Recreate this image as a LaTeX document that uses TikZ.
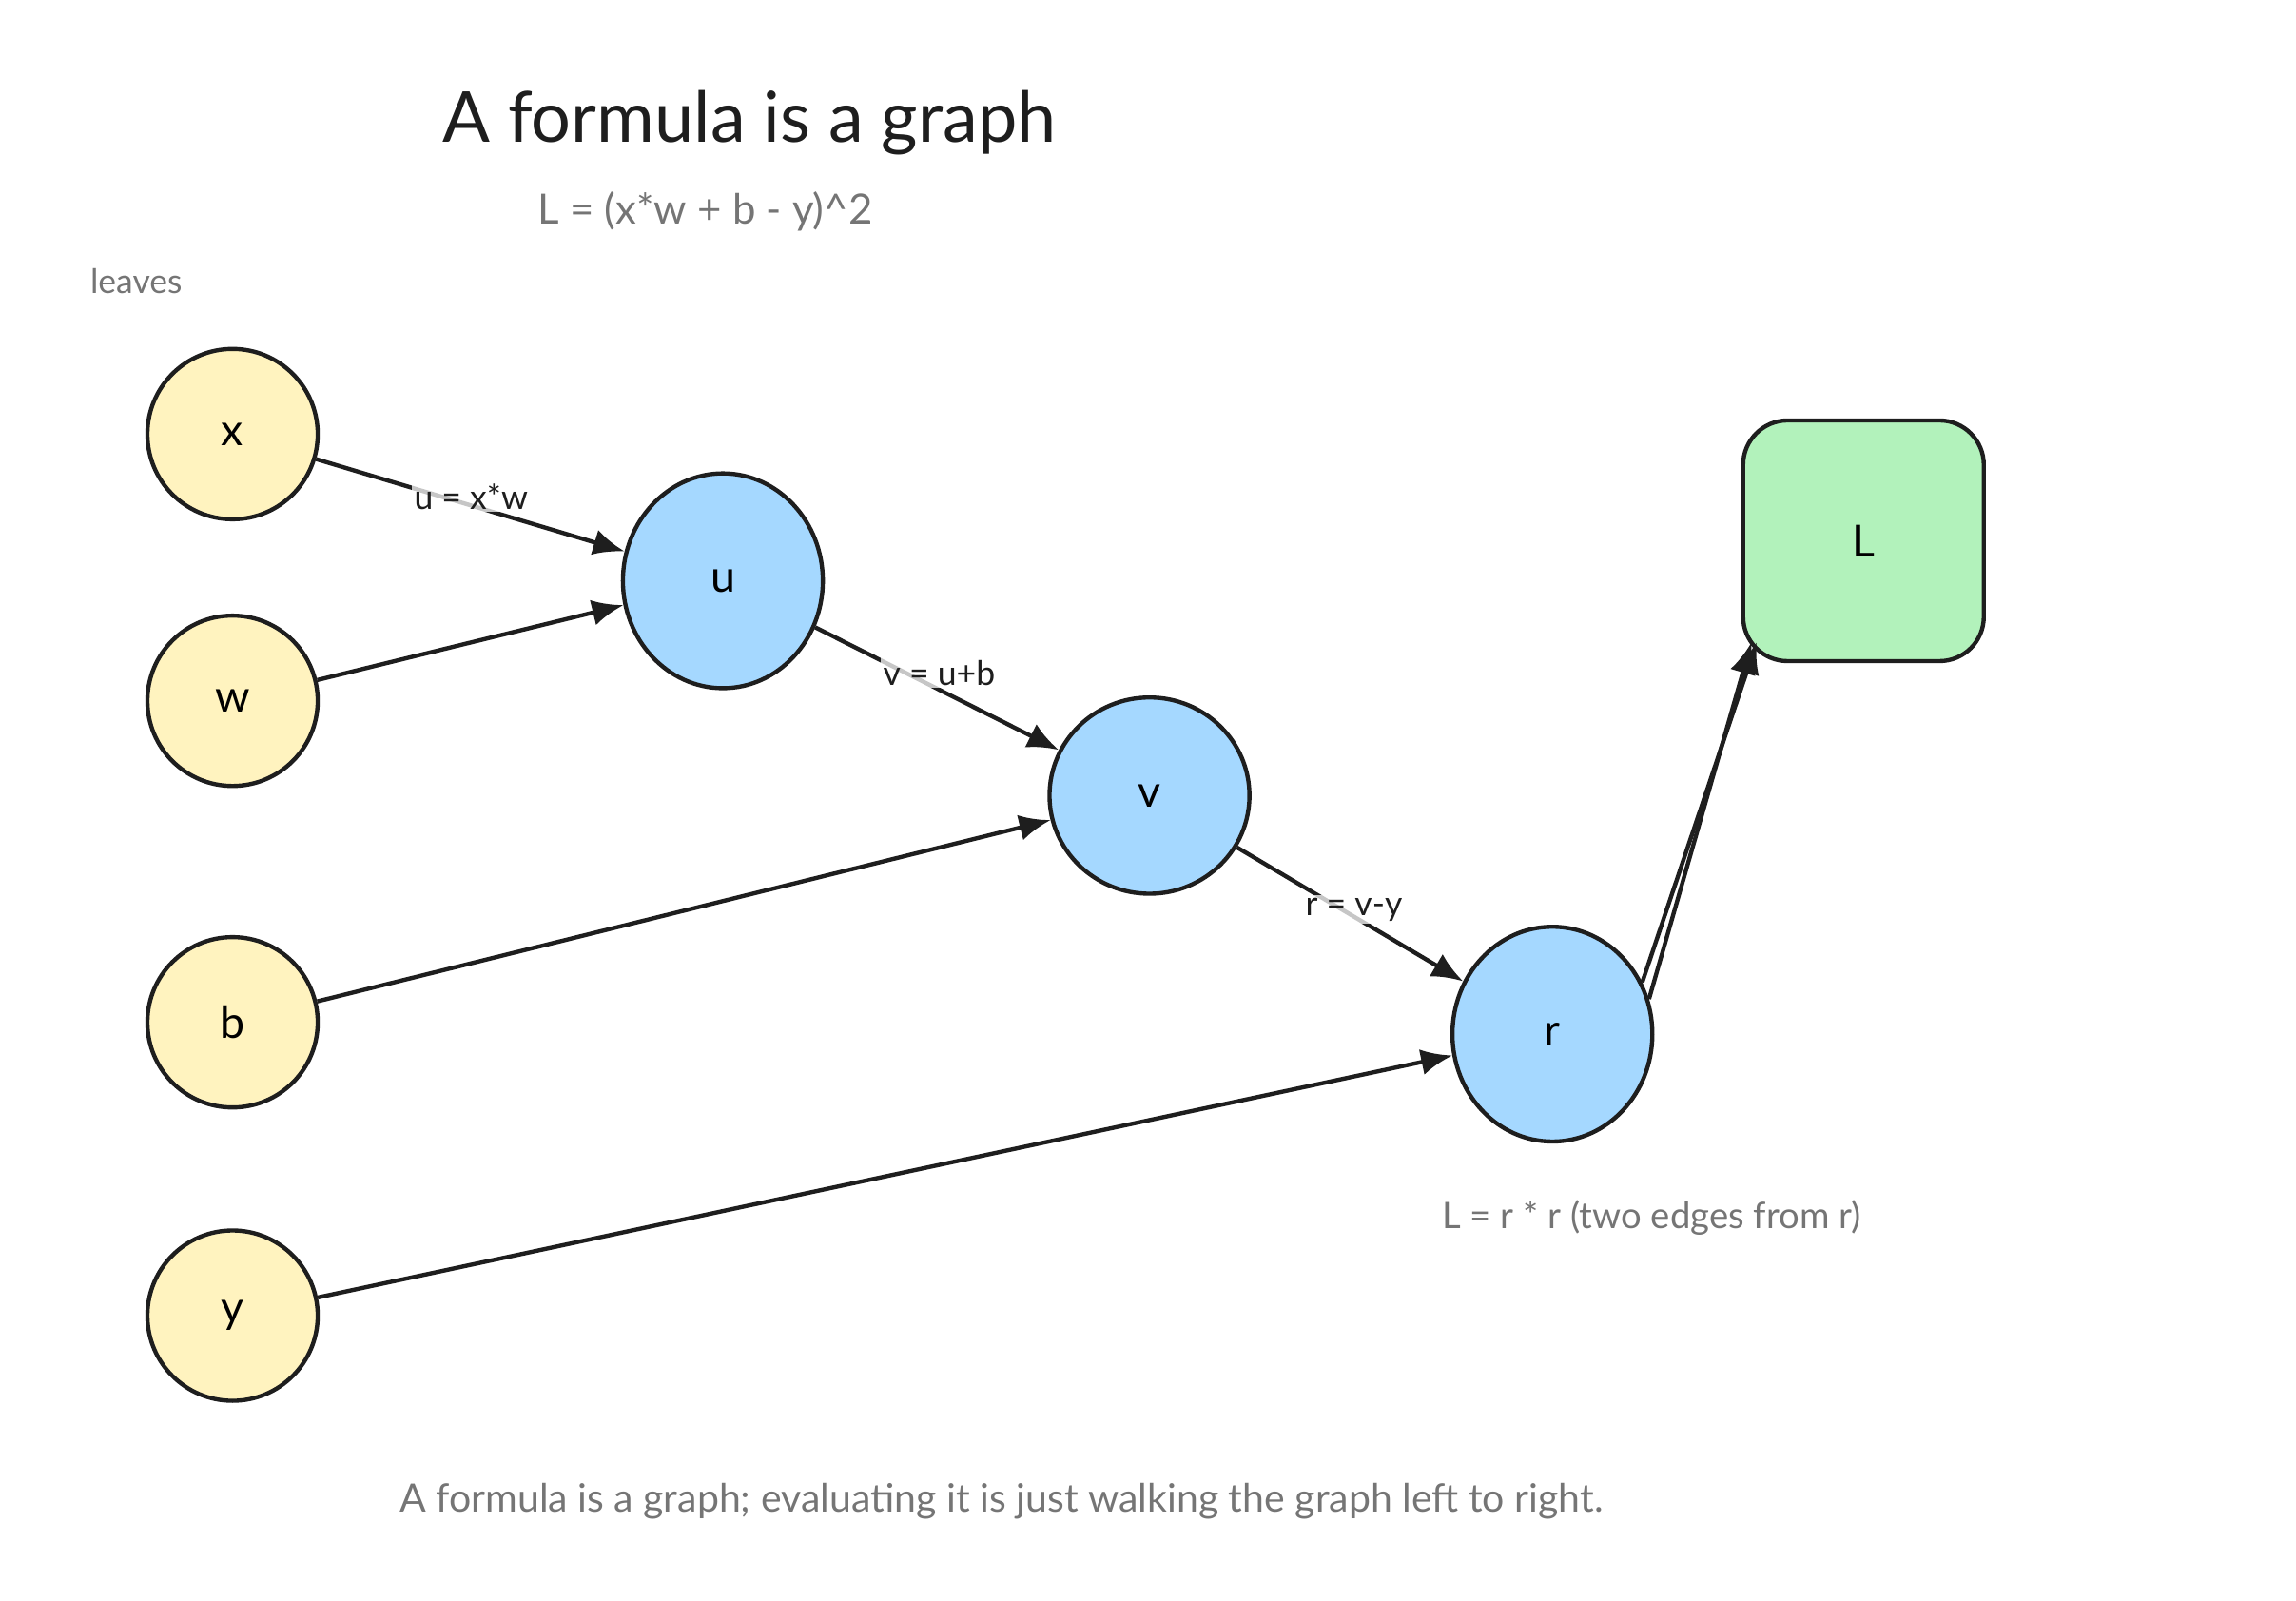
\documentclass[tikz,border=0pt]{standalone}
\usepackage{fontspec}
\setmainfont{Lato}
\usetikzlibrary{arrows.meta,shapes.geometric}
\definecolor{leaf}{HTML}{FFF3BF}
\definecolor{op}{HTML}{A5D8FF}
\definecolor{outc}{HTML}{B2F2BB}
\definecolor{ink}{HTML}{1E1E1E}
\definecolor{muted}{HTML}{757575}
\begin{document}
\begin{tikzpicture}[x=0.02cm,y=-0.02cm,
  leafn/.style={circle,draw=ink,line width=1.6pt,fill=leaf,minimum size=2.3cm,font=\fontsize{17}{20}\selectfont},
  opn/.style={ellipse,draw=ink,line width=1.6pt,fill=op,minimum width=2.7cm,minimum height=2.9cm,font=\fontsize{17}{20}\selectfont},
  edge/.style={draw=ink,line width=1.6pt,-{Latex[length=12pt,width=10pt]}},
  lbl/.style={font=\fontsize{13}{15}\selectfont,text=ink,fill=white,fill opacity=0.75,text opacity=1,inner sep=1pt},
  note/.style={font=\fontsize{14}{17}\selectfont,text=muted}]
\useasboundingbox (0,0) rectangle (1550,1080);
\node[leafn] (x) at (157,293) {x};
\node[leafn] (w) at (157,473) {w};
\node[leafn] (b) at (157,690) {b};
\node[leafn] (y) at (157,888) {y};
\node[opn] (u) at (488,392) {u};
\node[opn,minimum height=2.65cm] (v) at (776,537) {v};
\node[opn] (r) at (1048,698) {r};
\node[draw=ink,line width=1.6pt,fill=outc,rounded corners=0.6cm,minimum width=3.25cm,minimum height=3.25cm,font=\fontsize{17}{20}\selectfont] (L) at (1258,365) {L};
\node[font=\fontsize{27}{32}\selectfont,text=ink] (title) at (506,83) {A formula is a graph};
\node[note,font=\fontsize{16}{19}\selectfont] (sub) at (476,143) {L = (x*w + b - y)\textasciicircum 2};
\node[note,font=\fontsize{13}{16}\selectfont] (leaves) at (92,190) {leaves};
\draw[edge] (x) -- (u);
\draw[edge] (w) -- (u);
\draw[edge] (u) -- (v);
\draw[edge] (b) -- (v);
\draw[edge] (v) -- (r);
\draw[edge] (y) -- (r);
\draw[edge] (r.20) -- ([shift={(4pt,8pt)}]L.south west);
\draw[edge] (r.30) -- ([shift={(6pt,8pt)}]L.south west);
\node[lbl] (l1) at (318,335) {u = x*w};
\node[lbl] (l2) at (634,454) {v = u+b};
\node[lbl] (l3) at (914,614) {r = v-y};
\node[note] (rr) at (1115,822) {L = r * r (two edges from r)};
\node[note,font=\fontsize{15}{18}\selectfont] (cap) at (676,1013) {A formula is a graph; evaluating it is just walking the graph left to right.};
\end{tikzpicture}
\end{document}
